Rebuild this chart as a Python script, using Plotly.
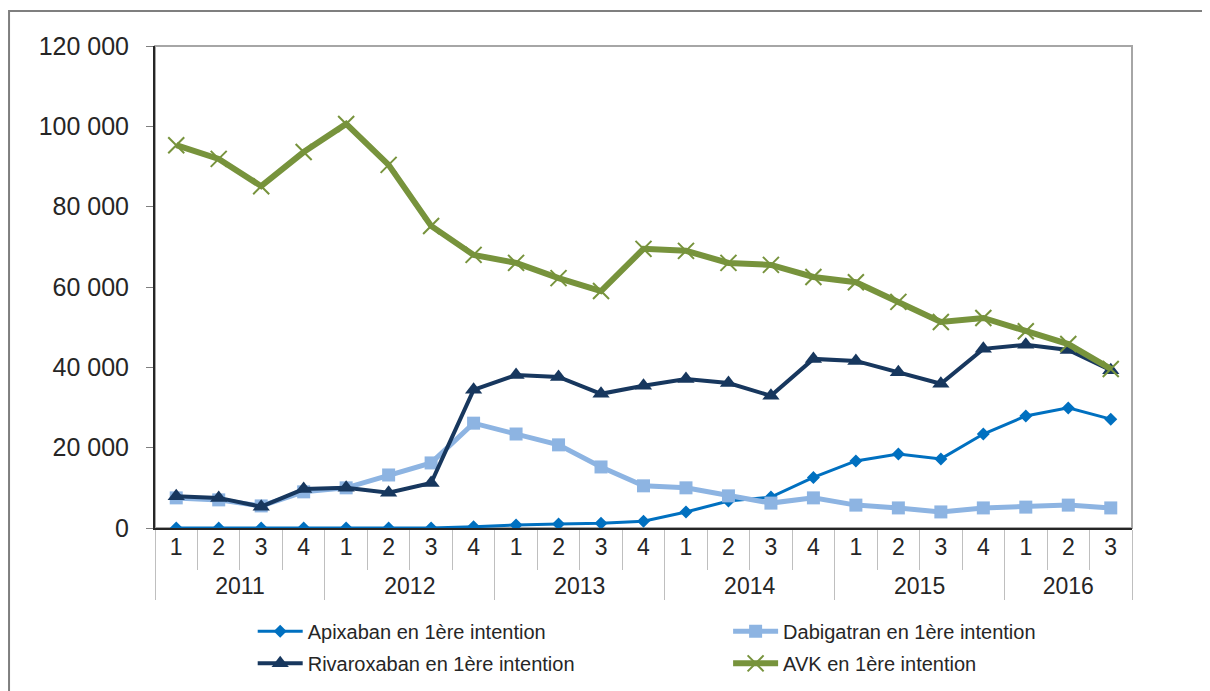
import plotly.graph_objects as go

# x axis: year / quarter
annees = ["2011"] * 4 + ["2012"] * 4 + ["2013"] * 4 + ["2014"] * 4 + ["2015"] * 4 + ["2016"] * 3
trimestres = ["1", "2", "3", "4"] * 5 + ["1", "2", "3"]

apixaban = [0, 0, 0, 0, 0, 0, 0, 300, 750, 1000, 1200, 1700,
            4000, 6700, 7700, 12600, 16700, 18400, 17200, 23400, 27900, 29900, 27100]
dabigatran = [7500, 7000, 5500, 9000, 10000, 13200, 16200, 26100, 23400, 20700, 15200, 10500,
              10000, 8000, 6200, 7500, 5700, 5000, 4000, 5000, 5200, 5700, 5000]
rivaroxaban = [7900, 7500, 5300, 9700, 10000, 8800, 11200, 34400, 38100, 37600, 33400, 35400,
               37100, 36100, 32900, 42100, 41600, 38800, 35900, 44600, 45600, 44300, 39300]
avk = [95300, 91900, 85100, 93600, 100600, 90400, 75200, 68000, 66000, 62200, 59000, 69500,
       69000, 66000, 65500, 62500, 61200, 56300, 51300, 52300, 49000, 45800, 39600]

# labels drawn at 23px; blank lines (10px base font) space the two label rows
big = "<span style='font-size:23px'>{}</span>"
x = [[" <br>" + big.format(a) for a in annees],
     [" <br>" + big.format(t) + "<br> " for t in trimestres]]

fig = go.Figure()

fig.add_trace(go.Scatter(
    x=x, y=apixaban, mode='lines+markers',
    name='Apixaban en 1ère intention', legend='legend', legendgroup='a',
    line=dict(color='#0070C0', width=3),
    marker=dict(symbol='diamond', size=10, color='#0070C0')
))

fig.add_trace(go.Scatter(
    x=x, y=dabigatran, mode='lines+markers',
    name='Dabigatran en 1ère intention', legend='legend2', legendgroup='d',
    line=dict(color='#8DB4E2', width=5),
    marker=dict(symbol='square', size=13, color='#8DB4E2')
))

fig.add_trace(go.Scatter(
    x=x, y=rivaroxaban, mode='lines+markers',
    name='Rivaroxaban en 1ère intention', legend='legend', legendgroup='r',
    line=dict(color='#17375E', width=4),
    marker=dict(symbol='triangle-up', size=15, color='#17375E')
))

fig.add_trace(go.Scatter(
    x=x, y=avk, mode='lines+markers',
    name='AVK en 1ère intention', legend='legend2', legendgroup='v',
    line=dict(color='#77933C', width=6),
    marker=dict(symbol='x-thin-open', size=16, line=dict(color='#77933C', width=2))
))

# outer frame and plot box
fig.add_shape(type='rect', xref='paper', yref='paper',
              x0=-0.1494, x1=1.09, y0=-0.45, y1=1.0726,
              line=dict(color='#7f7f7f', width=2), layer='below')
fig.add_shape(type='rect', xref='paper', yref='paper',
              x0=0, x1=1, y0=0, y1=1,
              line=dict(color='#a6a6a6', width=2), layer='below')

legend_font = dict(family='Liberation Sans, Arial', size=20, color='#262626')

fig.update_layout(
    width=1202, height=683,
    margin=dict(l=147, r=78, t=38, b=163, autoexpand=False),
    paper_bgcolor='white', plot_bgcolor='white',
    font=dict(family='Liberation Sans, Arial', color='#262626'),
    separators=', ',
    showlegend=True,
    legend=dict(
        x=0.1, xanchor='left', y=-0.174, yanchor='top',
        font=legend_font, itemwidth=45, bgcolor='rgba(0,0,0,0)',
        tracegroupgap=3,
    ),
    legend2=dict(
        x=0.5866, xanchor='left', y=-0.174, yanchor='top',
        font=legend_font, itemwidth=45, bgcolor='rgba(0,0,0,0)',
        tracegroupgap=3,
    ),
)

fig.update_xaxes(
    type='multicategory', range=[-0.5, 22.5], automargin=False,
    showline=True, linecolor='#262626', linewidth=2,
    ticks='outside', ticklen=40, tickcolor='#bfbfbf', tickwidth=1,
    tickfont=dict(size=10, color='#262626'),
    showdividers=True, dividercolor='#bfbfbf', dividerwidth=1,
    showgrid=False,
)

fig.update_yaxes(
    range=[0, 120000], dtick=20000, automargin=False,
    tickformat=',d',
    showline=True, linecolor='#262626', linewidth=2,
    ticks='outside', ticklen=7, tickcolor='#7f7f7f',
    tickfont=dict(size=25, color='#262626'),
    ticklabelstandoff=12,
    showgrid=False, zeroline=False,
)

fig.write_html("out.html")
